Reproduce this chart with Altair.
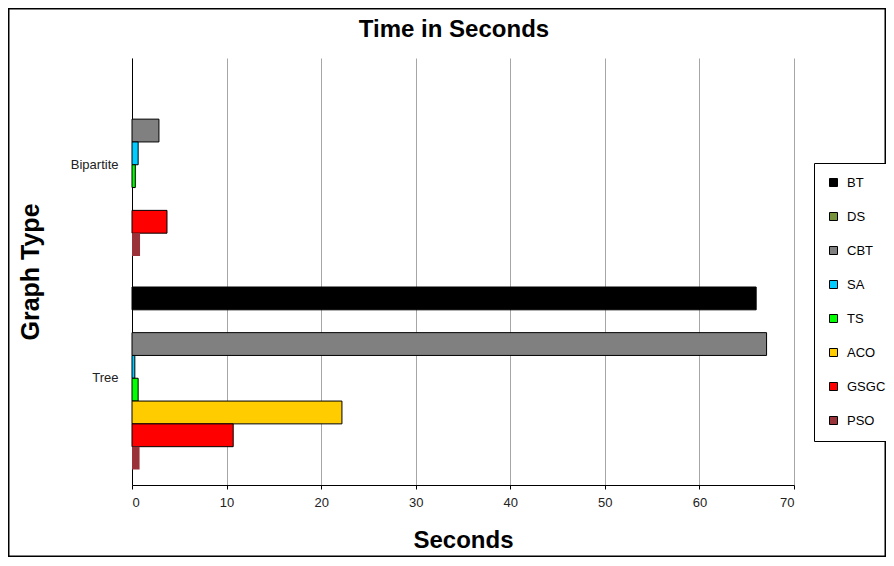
import altair as alt
import pandas as pd

categories = ["Bipartite", "Tree"]
series = ["BT", "DS", "CBT", "SA", "TS", "ACO", "GSGC", "PSO"]
bipartite_values = [0, 0, 2.85, 0.65, 0.35, 0, 3.7, 0.85]
tree_values = [66.0, 0, 67.1, 0.3, 0.65, 22.2, 10.7, 0.8]
colors = ["#000000", "#77933C", "#808080", "#00CCFF", "#00FF00", "#FFCC00", "#FF0000", "#993339"]
title_text = "Time in Seconds"

rows = []
for s, v in zip(series, bipartite_values):
    rows.append({"Graph Type": "Bipartite", "Series": s, "Seconds": v})
for s, v in zip(series, tree_values):
    rows.append({"Graph Type": "Tree", "Series": s, "Seconds": v})
df = pd.DataFrame(rows)

W, H = 662, 427
PL, PT, PR, PB = 124, 50, 92, 72

bars = alt.Chart(df).mark_bar(strokeWidth=1).encode(
    x=alt.X("Seconds:Q",
            scale=alt.Scale(domain=[0, 70], nice=False),
            axis=alt.Axis(values=list(range(0, 71, 10)), grid=True, gridColor="#A6A6A6",
                          gridWidth=1, domainColor="black", tickColor="black", tickSize=4,
                          labelFontSize=13, labelPadding=7, labelColor="#222222",
                          title="Seconds", titleFontSize=24, titleFontWeight="bold",
                          titleColor="black", titleY=55, titleBaseline="middle")),
    y=alt.Y("Graph Type:N", sort=categories,
            scale=alt.Scale(paddingInner=0, paddingOuter=0),
            axis=alt.Axis(ticks=False, domainColor="black", labelFontSize=13,
                          labelPadding=14, labelColor="#222222",
                          title="Graph Type", titleFontSize=25, titleFontWeight="bold",
                          titleColor="black", titleAngle=-90, titleX=-102, titleY=213.5,
                          titleBaseline="middle", titleAlign="center")),
    yOffset=alt.YOffset("Series:N", sort=series,
                        scale=alt.Scale(paddingInner=0, paddingOuter=0.68)),
    color=alt.Color("Series:N", sort=series,
                    scale=alt.Scale(domain=series, range=colors),
                    legend=alt.Legend(title=None, orient="none", legendX=682, legendY=105,
                                      strokeColor="black", fillColor="white", padding=13,
                                      rowPadding=20, symbolType="square", symbolSize=64,
                                      symbolStrokeColor="black", symbolStrokeWidth=1,
                                      labelFontSize=13, labelOffset=7, labelColor="black")),
    stroke=alt.condition("datum.Seconds > 0 && datum.Series != 'PSO' && datum.Series != 'DS'",
                         alt.value("black"), alt.value("transparent")),
)

border = alt.Chart(alt.Data(values=[{"a": 1}])).mark_rect(
    fill=None, stroke="black", strokeWidth=1.5
).encode(
    x=alt.value(-PL + 0.75),
    x2=alt.value(W + PR - 0.75),
    y=alt.value(-PT + 0.75),
    y2=alt.value(H + PB - 0.75),
)

title = alt.Chart(alt.Data(values=[{"t": title_text}])).mark_text(
    fontSize=24, fontWeight="bold", color="black", baseline="middle", align="center"
).encode(
    text="t:N",
    x=alt.value(322),
    y=alt.value(-28),
)

chart = alt.layer(bars, border, title).properties(
    width=W, height=H,
    autosize=alt.AutoSizeParams(type="none"),
    padding={"left": PL, "top": PT, "right": PR, "bottom": PB},
).configure(font="Liberation Sans").configure_view(stroke=None)

chart.save("out.html", embed_options={"renderer": "svg", "actions": False})
